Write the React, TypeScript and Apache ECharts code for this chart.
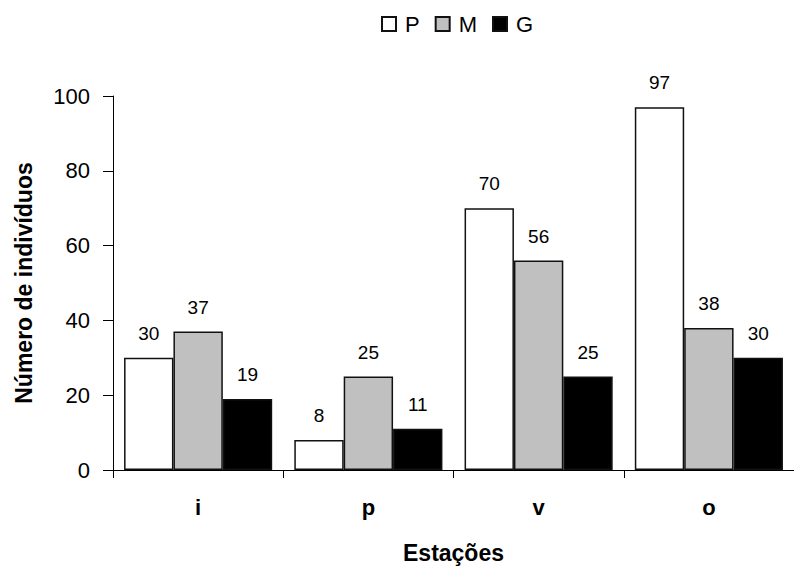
import React, { useEffect, useRef } from "react";
import * as echarts from "echarts";

const categories = ["i", "p", "v", "o"];
const seriesNames = ["P", "M", "G"];
const valuesP = [30, 8, 70, 97];
const valuesM = [37, 25, 56, 38];
const valuesG = [19, 11, 25, 30];
const yTicks = [0, 20, 40, 60, 80, 100];

const FONT = "'Liberation Sans', Arial, sans-serif";

export default function App() {
  const ref = useRef<HTMLDivElement>(null);
  useEffect(() => {
    if (!ref.current) return;
    const chart = echarts.init(ref.current, undefined, { renderer: "svg" });
    const colors = ["#ffffff", "#c0c0c0", "#000000"];
    const data = [valuesP, valuesM, valuesG];
    chart.setOption({
      animation: false,
      backgroundColor: "#ffffff",
      textStyle: { fontFamily: FONT, color: "#000" },
      legend: {
        left: 381,
        top: 13,
        padding: 0,
        itemWidth: 14,
        itemHeight: 14,
        itemGap: 15,
        icon: "rect",
        textStyle: { fontSize: 22, color: "#000", fontFamily: FONT, padding: [0, 0, 0, 4] },
        data: seriesNames,
      },
      grid: { left: 113, top: 96, width: 688, height: 377, containLabel: false },
      xAxis: {
        type: "category",
        data: categories,
        name: "Estações",
        nameLocation: "middle",
        nameGap: 71,
        nameTextStyle: { fontSize: 23, fontWeight: "bold", color: "#000", fontFamily: FONT },
        axisLine: { lineStyle: { color: "#000", width: 1 } },
        axisTick: { show: true, length: 8, lineStyle: { color: "#000" } },
        axisLabel: { fontSize: 22, fontWeight: "bold", color: "#000", margin: 26, fontFamily: FONT },
      },
      yAxis: {
        type: "value",
        min: yTicks[0],
        max: yTicks[yTicks.length - 1],
        interval: yTicks[1] - yTicks[0],
        name: "Número de indivíduos",
        nameLocation: "middle",
        nameGap: 78,
        nameTextStyle: { fontSize: 23, fontWeight: "bold", color: "#000", fontFamily: FONT },
        axisLine: { show: true, lineStyle: { color: "#000", width: 1 } },
        axisTick: { show: true, length: 10, lineStyle: { color: "#000" } },
        axisLabel: { fontSize: 22, color: "#000", margin: 23, fontFamily: FONT },
        splitLine: { show: false },
      },
      series: seriesNames.map((name, i) => ({
        name,
        type: "bar",
        data: data[i],
        barGap: "0%",
        barCategoryGap: "13%",
        itemStyle: { color: colors[i], borderColor: "#111", borderWidth: 1.5 },
        label: {
          show: true,
          position: "top",
          distance: 15,
          fontSize: 19,
          color: "#000",
          fontFamily: FONT,
        },
      })),
    });
    return () => chart.dispose();
  }, []);
  return (
    <div
      ref={ref}
      style={{ position: "absolute", left: 0, top: 0, width: 794, height: 569 }}
    />
  );
}
